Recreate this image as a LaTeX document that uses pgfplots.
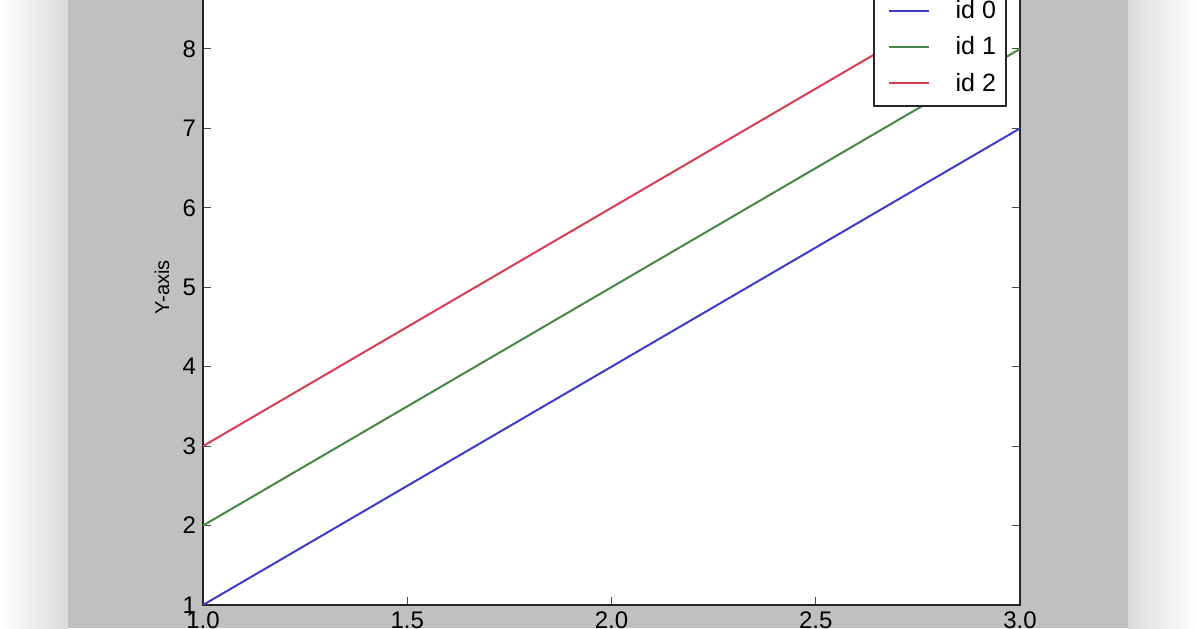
\documentclass[border=0pt]{standalone}
\usepackage{fontspec}
\setmainfont{Liberation Sans}
\usepackage{pgfplots}
\pgfplotsset{compat=1.18}

\definecolor{idblue}{RGB}{60,60,200}
\definecolor{idgreen}{RGB}{70,135,70}
\definecolor{idred}{RGB}{215,60,85}
\definecolor{figgray}{RGB}{192,192,192}

\begin{document}
\begin{tikzpicture}[x=1pt,y=1pt]
% window background and shadows
\fill[white] (-101.5,-11.5) rectangle (496.5,302.5);
\shade[left color=white, right color=black!14] (-101.5,-11.5) rectangle (-67.5,302.5);
\shade[left color=black!14, right color=white] (462.5,-11.5) rectangle (496.5,302.5);
\fill[figgray] (-67.5,-11.5) rectangle (462.5,302.5);
\path[use as bounding box] (-101.5,-11.5) rectangle (496.5,302.5);

\begin{axis}[
    at={(0,0)}, anchor=south west,
    scale only axis,
    width=408.5pt, height=317.75pt,
    xmin=1, xmax=3, ymin=1, ymax=9,
    xtick={1,1.5,2,2.5,3},
    xticklabels={1.0,1.5,2.0,2.5,3.0},
    ytick={1,2,3,4,5,6,7,8,9},
    tick align=inside,
    major tick length=4pt,
    tick style={black!70, line width=0.5pt},
    axis line style={black!85, line width=1pt},
    axis background/.style={fill=white},
    ticklabel style={font=\fontsize{12}{14}\selectfont},
    /pgf/number format/assume math mode=true,
    ylabel={Y-axis},
    every axis y label/.style={at={(axis description cs:-0.0502,0.5)}, rotate=90, anchor=center, font=\fontsize{10}{12}\selectfont},
    legend image code/.code={%
        \path[draw=none] (-3.5pt,0pt) -- (32.5pt,0pt);
        \draw[#1] (0pt,0pt) -- (20pt,0pt);},
    legend cell align=left,
    legend style={
        at={(axis description cs:0.9841,0.7836)}, anchor=south east,
        draw=black!85, line width=1pt, fill=white,
        font=\fontsize{12.5}{15}\selectfont,
        row sep=3.5pt, inner xsep=4pt, inner ysep=4pt,
        nodes={inner xsep=1pt},
    },
]
\addplot[idblue, line width=1pt] coordinates {(1,1) (2,4) (3,7)};
\addlegendentry{id 0}
\addplot[idgreen, line width=1pt] coordinates {(1,2) (2,5) (3,8)};
\addlegendentry{id 1}
\addplot[idred, line width=1pt] coordinates {(1,3) (2,6) (3,9)};
\addlegendentry{id 2}
\end{axis}
\end{tikzpicture}
\end{document}
